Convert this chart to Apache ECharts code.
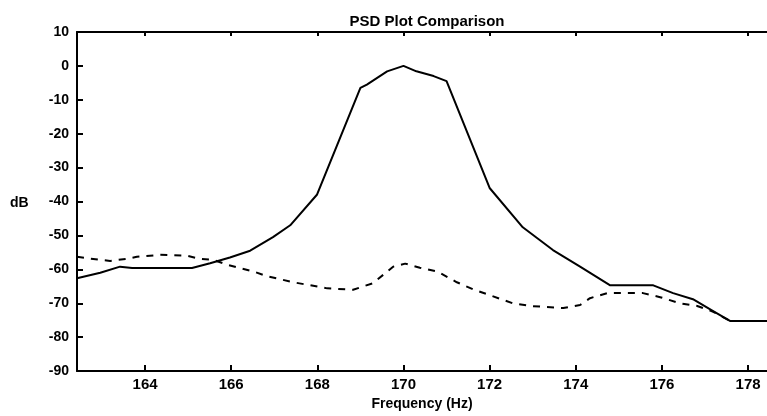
<!DOCTYPE html>
<html>
<head>
<meta charset="utf-8">
<script src="https://cdn.jsdelivr.net/npm/echarts@6/dist/echarts.min.js"></script>
<style>html,body{margin:0;padding:0;background:#fff;}#c{width:767px;height:416px;}</style>
</head>
<body>
<div id="c"></div>
<script>
// Frequency (Hz) / dB pairs
const solidFreq = [162.42,162.96,163.42,163.70,165.09,165.51,165.97,166.44,166.97,167.37,167.99,169.0,169.15,169.62,170.0,170.3,170.7,171.0,172.0,172.77,173.47,174.1,174.8,175.8,176.26,176.72,177.19,177.58,178.44];
const solidDb   = [-62.6,-61,-59.2,-59.6,-59.6,-58.2,-56.5,-54.5,-50.5,-47,-38,-6.5,-5.5,-1.6,0,-1.6,-3,-4.5,-36,-47.6,-54.3,-59.2,-64.7,-64.7,-67,-68.8,-72.3,-75.2,-75.2];
const dashFreq = [162.42,162.96,163.19,163.58,163.81,164.35,164.98,165.28,165.58,165.90,166.51,166.83,167.44,168.23,168.83,169.29,169.76,170.04,170.38,170.78,171.24,171.62,172.54,172.94,173.71,174.10,174.33,174.73,175.56,175.96,176.42,176.82,177.19,177.58,178.44];
const dashDb   = [-56.3,-57.2,-57.5,-56.9,-56.3,-55.7,-56,-56.9,-57.2,-58.6,-60.6,-62,-63.8,-65.6,-66,-64.1,-59.2,-58.3,-59.5,-60.6,-63.8,-65.9,-70,-70.8,-71.4,-70.5,-68.5,-67,-67,-68.2,-70,-70.8,-72.5,-75.2,-75.2];
const xTicks = [164,166,168,170,172,174,176,178];
const titleText = 'PSD Plot Comparison';
const xName = 'Frequency (Hz)';
const yName = 'dB';

const pair = (xs, ys) => xs.map((x, i) => [x, ys[i]]);
const FONT = 'Liberation Sans, Arial, sans-serif';
const chart = echarts.init(document.getElementById('c'), null, {renderer: 'canvas'});
chart.setOption({
  animation: false,
  backgroundColor: '#fff',
  title: {text: titleText, left: 422, top: 9, textAlign: 'center',
    textStyle: {fontFamily: FONT, fontSize: 15, fontWeight: 'bold', color: '#000'}},
  grid: {left: 77, right: 0, top: 32, bottom: 40},
  graphic: [{type: 'text', left: 10, top: 196,
    style: {text: yName, fontFamily: FONT, fontSize: 14, fontWeight: 'bold', fill: '#000'}}],
  xAxis: [{
    type: 'value', min: 162.42, max: 178.44, position: 'bottom',
    name: xName, nameLocation: 'middle', nameGap: 22,
    nameTextStyle: {fontFamily: FONT, fontSize: 14, fontWeight: 'bold', color: '#000'},
    axisLine: {show: true, onZero: false, lineStyle: {color: '#000', width: 2}},
    axisTick: {show: true, inside: true, length: 6, customValues: xTicks, lineStyle: {color: '#000', width: 2}},
    axisLabel: {customValues: xTicks, margin: 6, fontFamily: FONT, fontSize: 15, fontWeight: 'bold', color: '#000'},
    splitLine: {show: false}
  }, {
    type: 'value', min: 162.42, max: 178.44, position: 'top',
    axisLine: {show: true, onZero: false, lineStyle: {color: '#000', width: 2}},
    axisTick: {show: true, inside: true, length: 4, customValues: xTicks, lineStyle: {color: '#000', width: 2}},
    axisLabel: {show: false},
    splitLine: {show: false}
  }],
  yAxis: {
    type: 'value', min: -90, max: 10, interval: 10,
    axisLine: {show: true, onZero: false, lineStyle: {color: '#000', width: 2}},
    axisTick: {show: true, inside: true, length: 6, lineStyle: {color: '#000', width: 2}},
    axisLabel: {margin: 8, fontFamily: FONT, fontSize: 14, fontWeight: 'bold', color: '#000'},
    splitLine: {show: false}
  },
  series: [{
    type: 'line', data: pair(solidFreq, solidDb), showSymbol: false,
    lineStyle: {color: '#000', width: 2, type: 'solid'}
  }, {
    type: 'line', data: pair(dashFreq, dashDb), showSymbol: false,
    lineStyle: {color: '#000', width: 2, type: [7, 7]}
  }]
});
</script>
</body>
</html>
